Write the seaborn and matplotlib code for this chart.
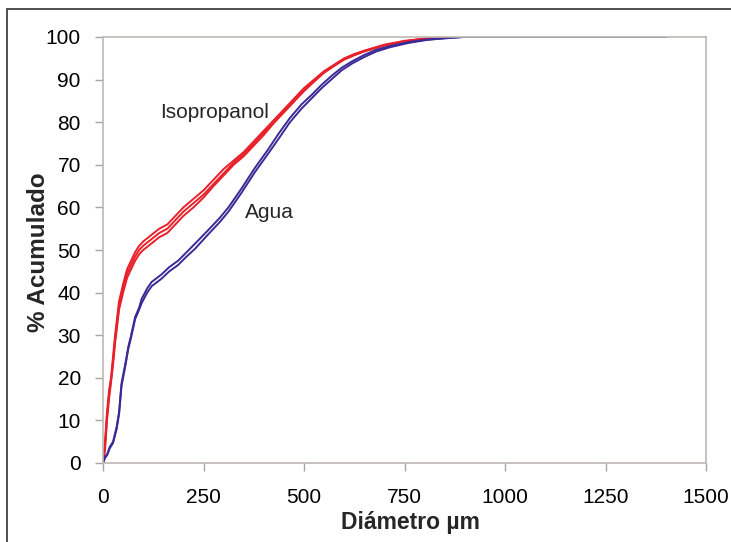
import matplotlib
matplotlib.use("Agg")
import matplotlib.pyplot as plt
import seaborn as sns
import pandas as pd
from matplotlib.patches import Rectangle

sns.set_theme(style="white")
plt.rcParams['font.family'] = ['Liberation Sans', 'DejaVu Sans']

# Isopropanol (3 replicates)
iso_x = [0, 5, 10, 15, 20, 25, 30, 35, 40, 50, 60, 70, 80, 90, 100, 120, 140, 160,
         180, 200, 225, 250, 275, 300, 325, 350, 375, 400, 425, 450, 475, 500, 525,
         550, 575, 600, 625, 650, 700, 750, 800, 850, 900]
iso_1 = [0, 5, 12, 17, 20, 25, 30, 34, 38, 42, 45.5, 47.5, 49.5, 51, 52, 53.5, 55, 56,
         58, 60, 62, 64, 66.5, 69, 71, 73, 75.5, 78, 80.5, 83, 85.5, 88, 90,
         92, 93.5, 95, 96, 96.8, 98.2, 99.1, 99.6, 100, 100]
iso_2 = [0, 4, 11, 16, 19.5, 24, 29, 33, 37, 41, 44.5, 46.5, 48.5, 50, 51, 52.5, 54, 55,
         57, 59, 61, 63, 65.5, 68, 70.5, 72.5, 75, 77.5, 80, 82.5, 85, 87.5, 89.7,
         91.8, 93.3, 94.8, 95.8, 96.7, 98.1, 99, 99.6, 100, 100]
iso_3 = [0, 3, 10, 15, 19, 23, 28, 32, 36, 40, 43.5, 45.5, 47.5, 49, 50, 51.5, 53, 54,
         56, 58, 60, 62.3, 65, 67.5, 70, 72, 74.5, 77, 79.8, 82.3, 84.8, 87.3, 89.5,
         91.6, 93.2, 94.7, 95.7, 96.6, 98, 99, 99.6, 100, 100]

# Agua (2 replicates)
agua_x = [0, 5, 10, 17, 25, 34, 40, 46, 55, 63, 70, 80, 90, 96, 110, 121, 135, 146,
          165, 187, 205, 229, 260, 290, 312, 345, 378, 410, 436, 465, 494, 520, 544,
          570, 594, 620, 650, 680, 714, 760, 805, 850, 896, 1000, 1200, 1400]
agua_1 = [0, 1.5, 2, 3.8, 5, 8.5, 12, 18.7, 23, 27.3, 30, 34.3, 36.5, 38.5, 41, 42.5,
          43.5, 44.3, 46, 47.5, 49.2, 51.5, 54.5, 57.5, 60, 64.5, 69.3, 73.5, 77.2,
          81, 84.2, 86.5, 88.8, 91, 92.8, 94.3, 95.8, 97, 97.9, 98.8, 99.4, 99.7,
          100, 100, 100, 100]
agua_2 = [0, 1.2, 1.8, 3.5, 4.7, 8, 11.5, 18, 22.5, 26.8, 29.5, 33.8, 36, 37.5, 40,
          41.5, 42.5, 43.3, 45, 46.5, 48.2, 50.3, 53.5, 56.5, 59, 63.5, 68.3, 72.5,
          76, 80, 83.2, 85.7, 88, 90.2, 92.2, 93.8, 95.3, 96.6, 97.6, 98.6, 99.3,
          99.7, 100, 100, 100, 100]

rows = []
for name, xs, ys in [("iso1", iso_x, iso_1), ("iso2", iso_x, iso_2), ("iso3", iso_x, iso_3),
                     ("agua1", agua_x, agua_1), ("agua2", agua_x, agua_2)]:
    for xv, yv in zip(xs, ys):
        rows.append({"serie": name, "x": xv, "y": yv})
df = pd.DataFrame(rows)

palette = {"iso1": "#e8202a", "iso2": "#e8202a", "iso3": "#e8202a",
           "agua1": "#3b2a96", "agua2": "#3b2a96"}

fig = plt.figure(figsize=(7.31, 5.42), dpi=100)
ax = fig.add_axes([103/731, (542-463)/542, (706-103)/731, (463-37)/542])

sns.lineplot(data=df, x="x", y="y", hue="serie", palette=palette,
             estimator=None, sort=False, linewidth=1.4, legend=False, ax=ax)

ax.set_xlim(0, 1500)
ax.set_ylim(0, 100)
ax.set_xticks([0, 250, 500, 750, 1000, 1250, 1500])
ax.set_yticks(list(range(0, 101, 10)))
ax.tick_params(axis='both', direction='out', length=6, width=1, color='#a8a4a0',
               labelsize=15, labelcolor='black', bottom=True, left=True)
ax.tick_params(axis='y', pad=10)
ax.tick_params(axis='x', pad=12)
for s in ax.spines.values():
    s.set_color('#bdb8b4')
    s.set_linewidth(1.2)

ax.set_xlabel("Diámetro µm", fontsize=16.5, fontweight='bold')
ax.set_ylabel("% Acumulado", fontsize=17.5, fontweight='bold')
ax.xaxis.set_label_coords((410-103)/603, -(523-463)/426)
ax.yaxis.set_label_coords(-(103-38)/603, (463-252)/426)
ax.xaxis.label.set_va('center')
ax.yaxis.label.set_va('center')

ax.text(142, 82.3, "Isopropanol", fontsize=15, va='center', ha='left')
ax.text(353, 58.7, "Agua", fontsize=15, va='center', ha='left')

fig.patches.append(Rectangle((7/731, -0.1), 1.2, (542-9)/542 + 0.1,
                             transform=fig.transFigure, fill=False,
                             edgecolor='#333333', linewidth=1.2))

fig.savefig("out.png", dpi=100)
